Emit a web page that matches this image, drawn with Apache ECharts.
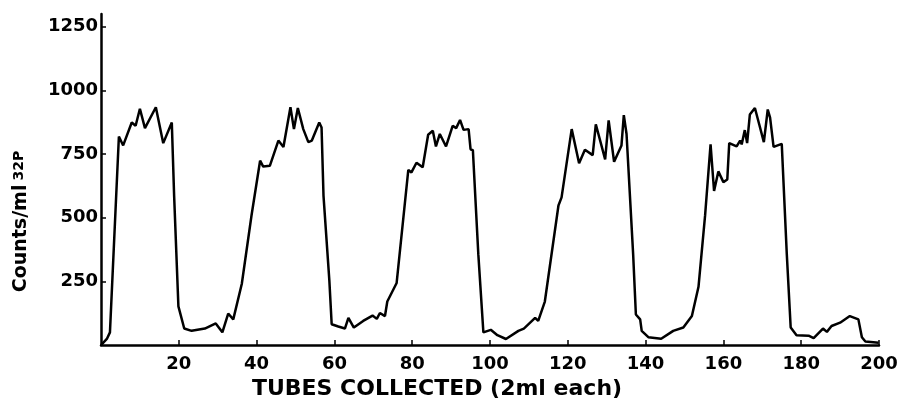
<!DOCTYPE html>
<html>
<head>
<meta charset="utf-8">
<script src="https://cdn.jsdelivr.net/npm/echarts@6/dist/echarts.min.js"></script>
<style>html,body{margin:0;padding:0;background:#fff}#c{width:909px;height:405px}</style>
</head>
<body>
<div id="c"></div>
<script>
// Tube number (x) and counts/ml 32P (y)
const tubes = [0,1.5,2.3,4.6,5.7,7.9,8.9,10.0,11.3,14.1,16.0,18.2,18.8,19.9,21.4,23.3,26.7,29.5,31.2,32.7,34.0,36.2,38.7,40.9,41.7,43.4,45.6,46.9,48.7,49.6,50.6,52.0,53.3,54.2,56.1,56.7,57.2,58.7,59.3,61.0,62.7,63.6,65.0,67.4,69.8,70.9,71.7,73.0,73.6,76.0,79.0,79.8,81.1,82.7,84.1,85.3,86.1,87.1,88.7,90.4,91.3,92.3,93.2,94.5,95.0,95.6,97.0,98.3,100.2,101.9,104.1,107.3,108.7,111.6,112.4,114.1,117.6,118.4,121.0,122.9,124.4,126.4,127.2,129.6,130.5,131.9,133.8,134.4,135.1,136.8,137.5,138.6,139.0,140.7,144.0,147.1,149.7,151.9,153.6,155.3,156.7,157.6,158.7,160.0,161.0,161.5,163.4,164.3,164.7,165.5,166.1,166.8,168.1,169.2,170.4,171.4,172.0,172.9,175.0,176.3,177.3,178.8,181.9,183.2,185.6,186.6,187.8,190.0,192.5,194.7,195.6,196.5,199.9];
const counts = [0,24,50,819,784,874,861,928,852,934,793,874,586,152,65,56,65,85,50,124,101,241,510,724,701,704,803,778,934,848,931,848,797,803,874,854,586,254,82,73,65,107,69,95,116,103,126,114,171,244,688,678,716,698,826,842,780,829,780,861,852,884,845,848,769,765,356,50,60,39,24,56,65,107,95,171,548,580,848,714,767,746,867,729,882,720,784,903,829,356,120,101,56,31,25,56,69,114,229,510,788,605,682,640,650,793,780,803,788,844,793,905,931,867,797,925,893,778,790,356,69,39,37,27,65,52,75,88,114,101,31,14,9];
const xTickLabels = [20,40,60,80,100,120,140,160,180,200];
const yTickLabels = [250,500,750,1000,1250];

const data = tubes.map((t, i) => [t, counts[i]]);
const font = 'DejaVu Sans';
const chart = echarts.init(document.getElementById('c'), null, {renderer: 'canvas'});
chart.setOption({
  backgroundColor: '#fff',
  animation: false,
  grid: {left: 101, right: 30, top: 14, bottom: 52},
  xAxis: {
    type: 'value', min: 0, max: 200,
    axisLine: {show: true, lineStyle: {color: '#000', width: 2.5}},
    axisTick: {inside: true, length: 5, lineStyle: {color: '#000', width: 1.5}, customValues: xTickLabels},
    axisLabel: {customValues: xTickLabels, color: '#000', fontFamily: font, fontWeight: 'bold', fontSize: 18, margin: 10, formatter: v => String(v)},
    splitLine: {show: false},
    name: 'TUBES COLLECTED (2ml each)',
    nameLocation: 'middle', nameGap: 29,
    nameTextStyle: {color: '#000', fontFamily: font, fontWeight: 'bold', fontSize: 22, padding: [0, 106, 0, 0]}
  },
  yAxis: {
    type: 'value', min: 0, max: 1300,
    axisLine: {show: true, lineStyle: {color: '#000', width: 2.5}},
    axisTick: {inside: true, length: 5, lineStyle: {color: '#000', width: 1.5}, customValues: yTickLabels},
    axisLabel: {customValues: yTickLabels, color: '#000', fontFamily: font, fontWeight: 'bold', fontSize: 18, margin: 3, formatter: v => String(v)},
    splitLine: {show: false},
    name: '{a|Counts/ml}{s|32P}',
    nameLocation: 'middle', nameRotate: 90, nameGap: 70,
    nameTextStyle: {
      color: '#000', padding: [0, 84, 0, 0],
      rich: {
        a: {fontFamily: font, fontWeight: 'bold', fontSize: 19, color: '#000', verticalAlign: 'bottom'},
        s: {fontFamily: font, fontWeight: 'bold', fontSize: 14, color: '#000', verticalAlign: 'top', padding: [0, 0, 0, 4]}
      }
    }
  },
  series: [{
    type: 'line', data: data, showSymbol: false, smooth: false,
    lineStyle: {color: '#000', width: 2.5}
  }]
});
</script>
</body>
</html>
